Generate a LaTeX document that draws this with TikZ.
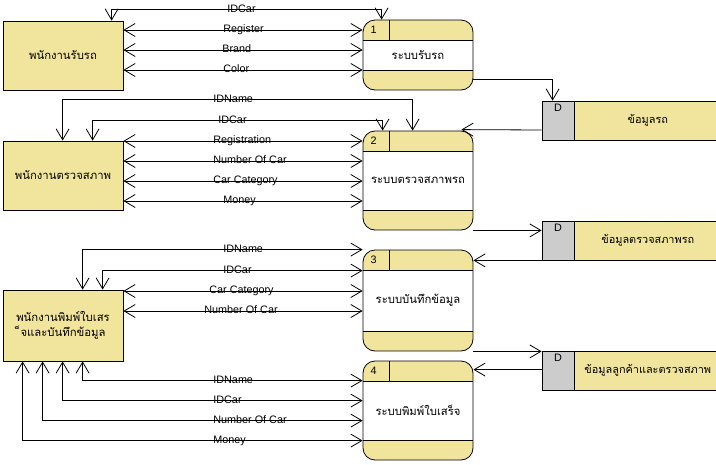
\documentclass[tikz,border=0pt]{standalone}
\usepackage{fontspec}
\setmainfont{Liberation Sans}
\newfontfamily\thaifont[Script=Thai]{Loma}
\usetikzlibrary{arrows.meta}
\definecolor{dfdyellow}{RGB}{241,228,156}
\definecolor{dfdgray}{RGB}{204,204,204}

\begin{document}
\begin{tikzpicture}[x=1pt, y=-1pt, line width=0.8pt,
  font=\fontsize{10.8}{13}\selectfont,
  flow/.style={-{Straight Barb[length=11pt,width=13pt]}},
  both/.style={{Straight Barb[length=11pt,width=13pt]}-{Straight Barb[length=11pt,width=13pt]}},
  lbl/.style={anchor=base west, inner sep=0pt},
  entity/.style={draw, fill=dfdyellow, minimum width=120pt, align=center,
    font=\thaifont\fontsize{11.3}{15}\selectfont},
  proc/.style={draw, fill=white, rounded corners=12pt, minimum width=110pt,
    font=\thaifont\fontsize{11.3}{13}\selectfont,
    path picture={
      \fill[dfdyellow, sharp corners] (path picture bounding box.north west) rectangle ([yshift=-20pt]path picture bounding box.north east);
      \fill[dfdyellow, sharp corners] ([yshift=20pt]path picture bounding box.south west) rectangle (path picture bounding box.south east);
      \draw[sharp corners] ([yshift=-20pt]path picture bounding box.north west) -- ([yshift=-20pt]path picture bounding box.north east);
      \draw[sharp corners] ([yshift=20pt]path picture bounding box.south west) -- ([yshift=20pt]path picture bounding box.south east);
      \draw[sharp corners] ([xshift=26pt]path picture bounding box.north west) -- ([xshift=26pt,yshift=-20pt]path picture bounding box.north west);
    }},
  num/.style={anchor=center, inner sep=0pt},
  storekey/.style={draw, fill=dfdgray, minimum width=32pt, minimum height=39pt},
  store/.style={draw, fill=dfdyellow, minimum width=146pt, minimum height=39pt,
    font=\thaifont\fontsize{10.9}{13}\selectfont}]
\useasboundingbox (0,0) rectangle (716,464);

\node[entity, minimum height=69pt] (e1) at (63,55.5) {พนักงานรับรถ};
\node[entity, minimum height=69pt] (e2) at (63,175.5) {พนักงานตรวจสภาพ};
\node[entity, minimum height=71pt] (e3) at (63,325.5) {พนักงานพิมพ์ใบเสร\\็จและบันทึกข้อมูล};

\node[proc, minimum height=70pt] (p1) at (418,55) {ระบบรับรถ};
\node[proc, minimum height=99pt] (p2) at (418,180.5) {ระบบตรวจสภาพรถ};
\node[proc, minimum height=101pt] (p3) at (418,300.5) {ระบบบันทึกข้อมูล};
\node[proc, minimum height=99pt] (p4) at (418,410.5) {ระบบพิมพ์ใบเสร็จ};
\node[num] (p1n) at ([xshift=11pt,yshift=-10pt]p1.north west) {1};
\node[num] (p2n) at ([xshift=11pt,yshift=-10pt]p2.north west) {2};
\node[num] (p3n) at ([xshift=11pt,yshift=-10pt]p3.north west) {3};
\node[num] (p4n) at ([xshift=11pt,yshift=-10pt]p4.north west) {4};

\node[storekey] (d1k) at (558,120.5) {};
\node[store, anchor=west] (d1) at (d1k.east) {ข้อมูลรถ};
\node[num] (d1d) at ([yshift=-7pt]d1k.north) {D};
\node[storekey] (d2k) at (558,240.5) {};
\node[store, anchor=west] (d2) at (d2k.east) {ข้อมูลตรวจสภาพรถ};
\node[num] (d2d) at ([yshift=-7pt]d2k.north) {D};
\node[storekey] (d3k) at (558,370.5) {};
\node[store, anchor=west] (d3) at (d3k.east) {ข้อมูลลูกค้าและตรวจสภาพ};
\node[num] (d3d) at ([yshift=-7pt]d3k.north) {D};

\draw[both] ([xshift=109pt]e1.north west) -- ++(0,-11) -| ([xshift=19pt]p1.north west);
\draw[both] (e1.east |- 0,30) -- (p1.west |- 0,30);
\draw[both] (e1.east |- 0,50) -- (p1.west |- 0,50);
\draw[both] (e1.east |- 0,70) -- (p1.west |- 0,70);
\node[lbl] (l1a) at (227,12) {IDCar};
\node[lbl] (l1b) at (223,32) {Register};
\node[lbl] (l1c) at (222,52) {Brand};
\node[lbl] (l1d) at (223,72) {Color};
\draw[flow] ([yshift=-60pt]p1.north east) -| ([xshift=11pt]d1k.north west);

\draw[both] ([xshift=60pt]e2.north west) -- ++(0,-41) -| ([xshift=50pt]p2.north west);
\draw[both] ([xshift=90pt]e2.north west) -- ++(0,-20) -| ([xshift=20pt]p2.north west);
\draw[flow] (d1k.west |- 0,130) -- ([xshift=-12pt,yshift=1pt]p2.north east);
\draw[both] (e2.east |- 0,141) -- (p2.west |- 0,141);
\draw[both] (e2.east |- 0,161) -- (p2.west |- 0,161);
\draw[both] (e2.east |- 0,181) -- (p2.west |- 0,181);
\draw[both] (e2.east |- 0,201) -- (p2.west |- 0,201);
\node[lbl] (l2a) at (213,102) {IDName};
\node[lbl] (l2b) at (218,123) {IDCar};
\node[lbl] (l2c) at (213,143) {Registration};
\node[lbl] (l2d) at (213,163) {Number Of Car};
\node[lbl] (l2e) at (213,183) {Car Category};
\node[lbl] (l2f) at (223,203) {Money};
\draw[flow] (p2.south east) -- (p2.south east -| d2k.west);

\draw[flow] (d2k.south west) -- (d2k.south west -| p3.east);
\draw[both] ([xshift=80pt]e3.north west) |- (p3.north west);
\draw[both] ([xshift=100pt]e3.north west) |- ([yshift=-21pt]p3.north west);
\draw[both] (e3.east |- 0,291) -- (p3.west |- 0,291);
\draw[both] (e3.east |- 0,311) -- (p3.west |- 0,311);
\node[lbl] (l3a) at (223,252) {IDName};
\node[lbl] (l3b) at (223,273) {IDCar};
\node[lbl] (l3c) at (209,293) {Car Category};
\node[lbl] (l3d) at (204,313) {Number Of Car};
\draw[flow] (p3.south east) -- (p3.south east -| d3k.west);

\draw[flow] ([yshift=-19pt]d3k.north west) -- ([yshift=-19pt]d3k.north west -| p4.east);
\draw[both] ([xshift=80pt]e3.south west) |- ([yshift=-20pt]p4.north west);
\draw[both] ([xshift=60pt]e3.south west) |- ([yshift=-40pt]p4.north west);
\draw[both] ([xshift=40pt]e3.south west) |- ([yshift=-60pt]p4.north west);
\draw[both] ([xshift=20pt]e3.south west) |- ([yshift=-80pt]p4.north west);
\node[lbl] (l4a) at (213,383) {IDName};
\node[lbl] (l4b) at (213,403) {IDCar};
\node[lbl] (l4c) at (213,423) {Number Of Car};
\node[lbl] (l4d) at (213,443) {Money};
\end{tikzpicture}
\end{document}
